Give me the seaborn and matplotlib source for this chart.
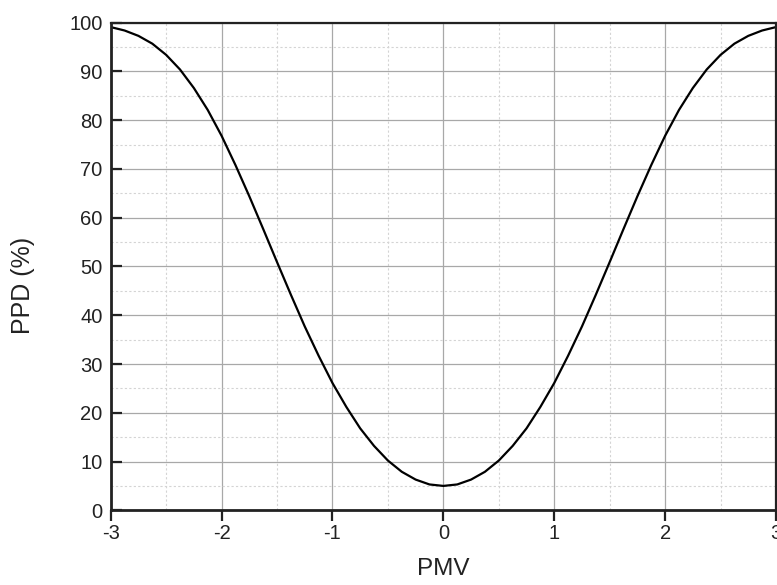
import matplotlib
matplotlib.use("Agg")
import matplotlib.pyplot as plt
from matplotlib.ticker import MultipleLocator
import seaborn as sns
import pandas as pd

# PMV values and PPD values
pmv = [-3.0, -2.875, -2.75, -2.625, -2.5, -2.375, -2.25, -2.125, -2.0, -1.875,
       -1.75, -1.625, -1.5, -1.375, -1.25, -1.125, -1.0, -0.875,
       -0.75, -0.625, -0.5, -0.375, -0.25, -0.125, 0.0,
       0.125, 0.25, 0.375, 0.5, 0.625, 0.75, 0.875, 1.0, 1.125, 1.25, 1.375,
       1.5, 1.625, 1.75, 1.875, 2.0, 2.125, 2.25, 2.375, 2.5, 2.625, 2.75,
       2.875, 3.0]
ppd = [99.1, 98.4, 97.3, 95.7, 93.4, 90.4, 86.6, 82.1, 76.8, 70.8,
       64.4, 57.7, 50.9, 44.2, 37.7, 31.7, 26.1, 21.2,
       16.8, 13.2, 10.2, 7.9, 6.3, 5.3, 5.0,
       5.3, 6.3, 7.9, 10.2, 13.2, 16.8, 21.2, 26.1, 31.7, 37.7, 44.2,
       50.9, 57.7, 64.4, 70.8, 76.8, 82.1, 86.6, 90.4, 93.4, 95.7, 97.3,
       98.4, 99.1]
x_ticks = [-3, -2, -1, 0, 1, 2, 3]
y_ticks = [0, 10, 20, 30, 40, 50, 60, 70, 80, 90, 100]

sns.set_theme(style="white")
plt.rcParams['font.family'] = ['Liberation Sans', 'DejaVu Sans']

df = pd.DataFrame({"PMV": pmv, "PPD": ppd})

fig = plt.figure(figsize=(7.77, 5.85), dpi=100)
ax = fig.add_axes([0.1425, 0.1277, 0.8562, 0.8335])

sns.lineplot(data=df, x="PMV", y="PPD", ax=ax, color="black", linewidth=1.6)

ax.set_xlim(-3, 3)
ax.set_ylim(0, 100)
ax.set_xticks(x_ticks)
ax.set_yticks(y_ticks)
ax.set_xticklabels([str(t) for t in x_ticks])
ax.set_yticklabels([str(t) for t in y_ticks])
ax.xaxis.set_minor_locator(MultipleLocator(0.5))
ax.yaxis.set_minor_locator(MultipleLocator(5))

ax.grid(which="major", color="#a8a8a8", linewidth=0.9, linestyle="-")
ax.grid(which="minor", color="#d4d4d4", linewidth=0.8, linestyle=(0, (2, 2)))
ax.set_axisbelow(True)

for s in ax.spines.values():
    s.set_visible(True)
    s.set_color("#222222")
ax.spines["left"].set_linewidth(2.0)
ax.spines["bottom"].set_linewidth(2.0)
ax.spines["top"].set_linewidth(1.6)
ax.spines["right"].set_linewidth(1.6)

ax.tick_params(axis="x", which="major", direction="out", length=8, width=1.6,
               color="#222222", labelsize=14.5, pad=2, bottom=True)
ax.tick_params(axis="y", which="major", direction="in", length=8, width=1.6,
               color="#222222", labelsize=14.5, pad=6, left=True)
ax.tick_params(which="minor", length=0)

ax.set_xlabel("PMV", fontsize=17.5, labelpad=11, color="#222222")
ax.set_ylabel("PPD (%)", fontsize=18, color="#222222")
ax.yaxis.set_label_coords(-0.114, 0.462)
for lab in ax.get_xticklabels() + ax.get_yticklabels():
    lab.set_color("#222222")

fig.savefig("out.png", dpi=100)
